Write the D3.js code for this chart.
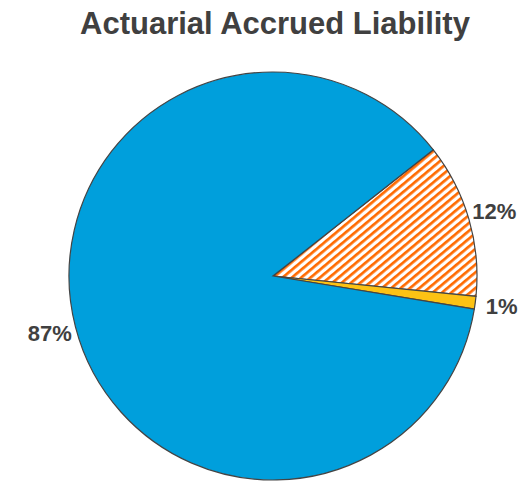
<!DOCTYPE html>
<html>
<head>
<meta charset="utf-8">
<script src="https://cdn.jsdelivr.net/npm/d3@7"></script>
<style>
  body { margin: 0; background: #fff; }
  text { font-family: "Liberation Sans", Arial, Helvetica, sans-serif; font-weight: bold; fill: #404040; }
</style>
</head>
<body>
<script>
// slice data, in drawing order (clockwise from the upper right)
const categories = ["Hatched", "Small", "Main"];
const values = [12.2, 1.0, 86.8];
const labels = ["12%", "1%", "87%"];

const w = 529, h = 483;
const cx = 273, cy = 276, r = 204;

const svg = d3.select("body").append("svg")
  .attr("width", w)
  .attr("height", h);

// orange diagonal hatch, "/" direction
const defs = svg.append("defs");
const pat = defs.append("pattern")
  .attr("id", "hatch")
  .attr("patternUnits", "userSpaceOnUse")
  .attr("width", 6)
  .attr("height", 6)
  .attr("patternTransform", "rotate(50)");
pat.append("rect").attr("width", 6).attr("height", 6).attr("fill", "#fff");
pat.append("rect").attr("width", 2.7).attr("height", 6).attr("fill", "#ff6a00");

const fills = d3.scaleOrdinal()
  .domain(categories)
  .range(["url(#hatch)", "#fcc214", "#009fdc"]);

svg.append("text")
  .attr("x", 275)
  .attr("y", 34)
  .attr("text-anchor", "middle")
  .style("font-size", "31px")
  .text("Actuarial Accrued Liability");

const pie = d3.pie()
  .sort(null)
  .startAngle(51.8 * Math.PI / 180)
  .endAngle((51.8 + 360) * Math.PI / 180)
  .value(d => d.value);

const arcs = pie(categories.map((c, i) => ({ cat: c, value: values[i], label: labels[i] })));

const arc = d3.arc().innerRadius(0).outerRadius(r);
const labelArc = d3.arc().innerRadius(r * 1.13).outerRadius(r * 1.13);

const g = svg.append("g").attr("transform", `translate(${cx},${cy})`);

g.selectAll("path")
  .data(arcs)
  .enter()
  .append("path")
  .attr("d", arc)
  .attr("fill", d => fills(d.data.cat))
  .attr("stroke", "#444")
  .attr("stroke-width", 1.2);

g.selectAll("text")
  .data(arcs)
  .enter()
  .append("text")
  .attr("transform", d => `translate(${labelArc.centroid(d)})`)
  .attr("text-anchor", "middle")
  .attr("dy", "0.35em")
  .style("font-size", "22px")
  .text(d => d.data.label);
</script>
</body>
</html>
